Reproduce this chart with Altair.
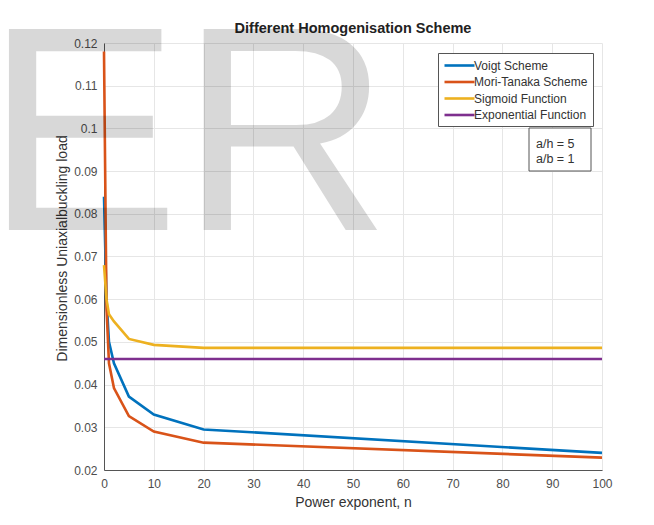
import altair as alt
import pandas as pd

# Power exponent values
n_values = [0, 0.5, 1, 2, 5, 10, 20, 100]

# Dimensionless uniaxial buckling load for each scheme
voigt = [0.084, 0.060, 0.050, 0.045, 0.0372, 0.0330, 0.0295, 0.0240]
mori_tanaka = [0.118, 0.058, 0.045, 0.0392, 0.0326, 0.0290, 0.0264, 0.0229]
sigmoid = [0.068, 0.060, 0.0565, 0.0548, 0.0507, 0.0493, 0.0486, 0.0486]
exponential = [0.046, 0.046, 0.046, 0.046, 0.046, 0.046, 0.046, 0.046]

series_names = ["Voigt Scheme", "Mori-Tanaka Scheme", "Sigmoid Function", "Exponential Function"]
series_colors = ["#0072BD", "#D95319", "#EDB120", "#7E2F8E"]

x_ticks = [0, 10, 20, 30, 40, 50, 60, 70, 80, 90, 100]
y_ticks = [0.02, 0.03, 0.04, 0.05, 0.06, 0.07, 0.08, 0.09, 0.10, 0.11, 0.12]

chart_title = "Different Homogenisation Scheme"
annotation_lines = ["a/h = 5", "a/b = 1"]
watermark_text = "ER"

FONT = "Liberation Sans"

rows = []
for name, vals in zip(series_names, [voigt, mori_tanaka, sigmoid, exponential]):
    for n, v in zip(n_values, vals):
        rows.append({"n": n, "load": v, "series": name})
df = pd.DataFrame(rows)

lines = alt.Chart(df).mark_line(strokeWidth=2.6).encode(
    x=alt.X(
        "n:Q",
        scale=alt.Scale(domain=[0, 100], nice=False),
        axis=alt.Axis(values=x_ticks, title="Power exponent, n", labelPadding=8, titlePadding=6,
                      labelFlush=False),
    ),
    y=alt.Y(
        "load:Q",
        scale=alt.Scale(domain=[0.02, 0.12], nice=False, zero=False),
        axis=alt.Axis(values=y_ticks, format=".2~f", title="Dimensionless Uniaxialbuckling load",
                      labelPadding=7, titlePadding=4, titleY=205, labelFlush=False),
    ),
    color=alt.Color(
        "series:N",
        scale=alt.Scale(domain=series_names, range=series_colors),
        legend=alt.Legend(
            title=None,
            orient="none",
            legendX=334,
            legendY=10,
            symbolType="M-2.5,0H2.5",
            symbolSize=144,
            symbolStrokeWidth=2.6,
            symbolOffset=9,
            labelFontSize=12,
            labelFont=FONT,
            labelColor="#333333",
            labelOffset=7,
            rowPadding=2.5,
            padding=5,
            strokeColor="#555555",
            fillColor="white",
        ),
    ),
)

one = pd.DataFrame({"k": [0]})

title_text = alt.Chart(one).mark_text(
    align="center", baseline="middle", fontSize=14.5, font=FONT, fontWeight="bold", color="#222222"
).encode(x=alt.value(249), y=alt.value(-14), text=alt.value(chart_title))

box = alt.Chart(one).mark_rect(fill="white", stroke="#555555", strokeWidth=1).encode(
    x=alt.value(425), x2=alt.value(487), y=alt.value(85), y2=alt.value(128)
)

ann = alt.Chart(one).mark_text(
    align="left", baseline="middle", fontSize=12.5, font=FONT, color="#333333", lineHeight=15
).encode(x=alt.value(432), y=alt.value(101), text=alt.value(annotation_lines))

watermark = alt.Chart(one).mark_text(
    align="left", baseline="alphabetic", fontSize=292, font=FONT, color="black", opacity=0.15
).encode(x=alt.value(-119), y=alt.value(187), text=alt.value(watermark_text))

chart = alt.layer(lines, box, ann, title_text, watermark).properties(
    width=498,
    height=427,
    autosize=alt.AutoSizeParams(type="none"),
    padding={"left": 104, "top": 43, "right": 52, "bottom": 55},
).configure_view(stroke=None).configure_axis(
    labelFont=FONT,
    labelFontSize=12,
    labelColor="#4d4d4d",
    titleFont=FONT,
    titleFontSize=14,
    titleFontWeight="normal",
    titleColor="#333333",
    domainColor="#555555",
    gridColor="#e6e6e6",
    ticks=False,
)

chart.save("out.html", embed_options={"renderer": "svg", "actions": False})
